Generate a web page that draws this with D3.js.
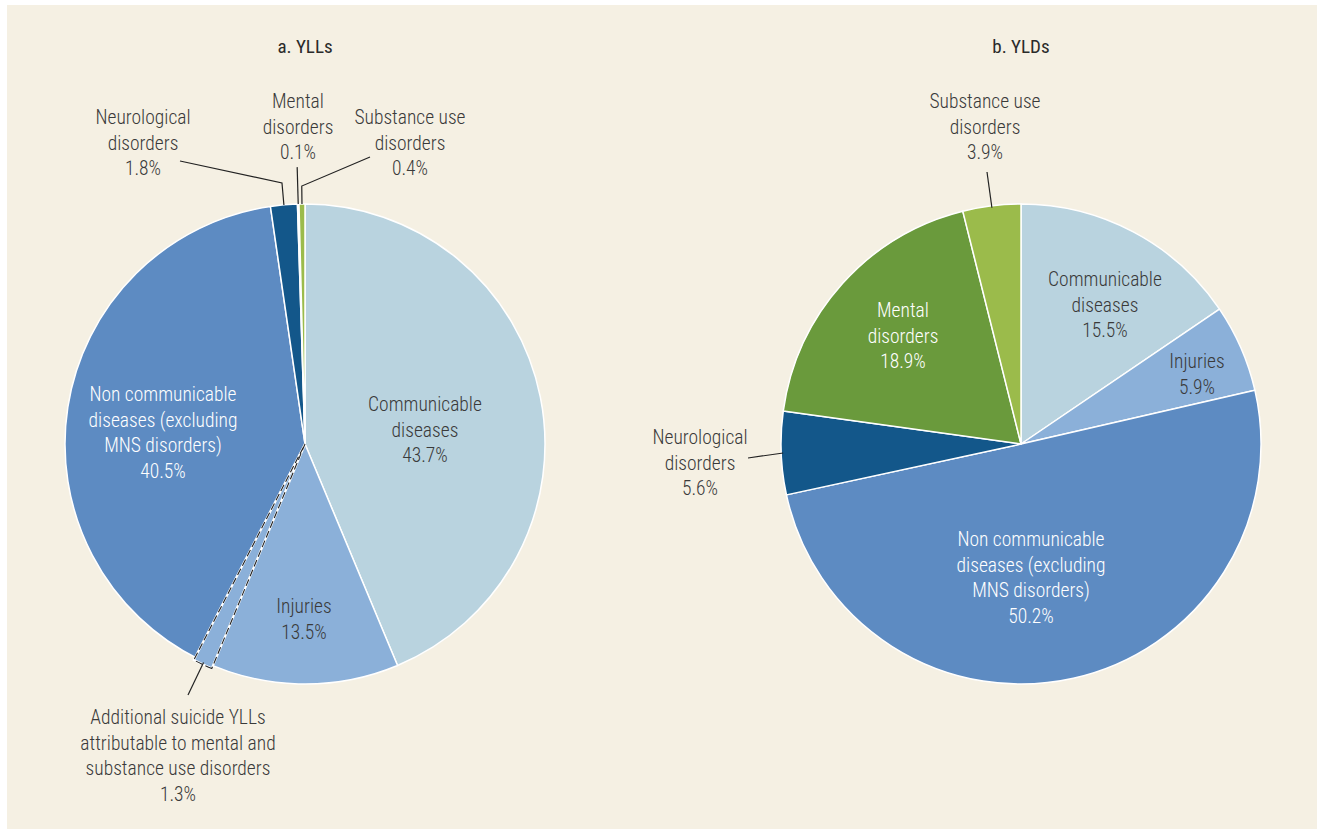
<!DOCTYPE html>
<html><head><meta charset="utf-8">
<script src="https://cdn.jsdelivr.net/npm/d3@7"></script>
<style>
html,body{margin:0;padding:0;background:#fff;}
svg text{font-family:"Liberation Sans Narrow","Roboto Condensed","DejaVu Sans Condensed",sans-serif;}
</style></head>
<body><svg id="c" width="1317" height="831"></svg>
<script>
// ---- data ----
const categoriesA = ["Communicable diseases","Injuries","Non communicable diseases (excluding MNS disorders)","Neurological disorders","Mental disorders","Substance use disorders"];
const valuesA = [43.7, 13.5, 40.5, 1.8, 0.1, 0.4];
const suicideA = 1.3; // additional suicide YLLs (overlay)
const categoriesB = ["Communicable diseases","Injuries","Non communicable diseases (excluding MNS disorders)","Neurological disorders","Mental disorders","Substance use disorders"];
const valuesB = [15.5, 5.9, 50.2, 5.6, 18.9, 3.9];
const titles = ["a. YLLs","b. YLDs"];

// ---- styles ----
const colors = {"Communicable diseases":"#b9d3df","Injuries":"#8bb0d9","Non communicable diseases (excluding MNS disorders)":"#5d8bc2","Neurological disorders":"#13578a","Mental disorders":"#6a9a3c","Substance use disorders":"#9bbb4b"};
const textDark = "#3a3a3a";
const fs = 19.5, lh = 25.5;

const svg = d3.select("#c");
svg.append("rect").attr("x",7).attr("y",5).attr("width",1310).attr("height",824).attr("fill","#f5f0e3");

const R = 240;
const pie = d3.pie().sort(null).value(d=>d.v);
const arc = d3.arc().innerRadius(0).outerRadius(R);

function polar(cx,cy,ang,r){return [cx + r*Math.sin(ang), cy - r*Math.cos(ang)];}

function drawLabel(g, lines, x, y, color){
  const t = g.append("text").attr("text-anchor","middle").attr("fill",color).attr("font-size",fs).attr("font-weight",300);
  lines.forEach((l,i)=>{
    t.append("tspan").attr("x",x).attr("y",y + i*lh + fs*0.36).text(l);
  });
}

function drawPie(cx, cy, cats, vals, title){
  const g = svg.append("g");
  g.append("text").attr("x",cx).attr("y",46+6.5).attr("text-anchor","middle").attr("font-size",19)
    .attr("fill","#2a2a2a").attr("font-weight",400).text(title);
  const data = pie(cats.map((c,i)=>({c, v:vals[i]})));
  const pg = g.append("g").attr("transform",`translate(${cx},${cy})`);
  pg.selectAll("path").data(data).join("path").attr("d",arc)
    .attr("fill",d=>colors[d.data.c]).attr("stroke","#fff").attr("stroke-width",1.5).attr("stroke-linejoin","round");
  return {g, pg, data};
}

// ---- Pie a ----
const A = drawPie(305, 444, categoriesA, valuesA, titles[0]);
{
  const {g,pg,data} = A;
  const cx=305, cy=444;
  const bnd = data[1].endAngle;
  const w = suicideA/100*2*Math.PI;
  const wedge = {startAngle: bnd - 0.72*w, endAngle: bnd + 0.28*w};
  pg.append("path").attr("d", d3.arc().innerRadius(0).outerRadius(R+3)(wedge))
    .attr("fill",colors["Injuries"]).attr("stroke","#fff").attr("stroke-width",2.2);
  pg.append("path").attr("d", d3.arc().innerRadius(0).outerRadius(R+3)(wedge))
    .attr("fill","none").attr("stroke","#222").attr("stroke-width",1.1).attr("stroke-dasharray","7,3.5");
  const mid = d=> (d.startAngle+d.endAngle)/2;
  drawLabel(g, ["Communicable","diseases","43.7%"], 425, 404, textDark);
  drawLabel(g, ["Injuries","13.5%"], 304, 606, textDark);
  drawLabel(g, ["Non communicable","diseases (excluding","MNS disorders)","40.5%"], 163, 394, "#fff");
  drawLabel(g, ["Neurological","disorders","1.8%"], 143, 117, textDark);
  drawLabel(g, ["Mental","disorders","0.1%"], 298, 101, textDark);
  drawLabel(g, ["Substance use","disorders","0.4%"], 410, 117, textDark);
  drawLabel(g, ["Additional suicide YLLs","attributable to mental and","substance use disorders","1.3%"], 178, 717, textDark);
  const line = d3.line();
  const ln = (pts)=>g.append("path").attr("d",line(pts)).attr("fill","none").attr("stroke","#222").attr("stroke-width",1.2);
  let a = mid(data[3]);
  ln([[180,161], polar(cx,cy,a,R+22), polar(cx,cy,a,R)]);
  a = mid(data[4]);
  ln([polar(cx,cy,a,R+37), polar(cx,cy,a,R)]);
  a = mid(data[5]);
  ln([[370,157], polar(cx,cy,a,R+18), polar(cx,cy,a,R)]);
  a = (wedge.startAngle+wedge.endAngle)/2;
  ln([polar(cx,cy,a,R+1), [188,695]]);
}

// ---- Pie b ----
const B = drawPie(1021, 444, categoriesB, valuesB, titles[1]);
{
  const {g,data} = B;
  const cx=1021, cy=444;
  const mid = d=> (d.startAngle+d.endAngle)/2;
  drawLabel(g, ["Communicable","diseases","15.5%"], 1105, 279, textDark);
  drawLabel(g, ["Injuries","5.9%"], 1197, 361, textDark);
  drawLabel(g, ["Mental","disorders","18.9%"], 903, 310, "#fff");
  drawLabel(g, ["Non communicable","diseases (excluding","MNS disorders)","50.2%"], 1031, 539, "#fff");
  drawLabel(g, ["Substance use","disorders","3.9%"], 985, 101, textDark);
  drawLabel(g, ["Neurological","disorders","5.6%"], 700, 437, textDark);
  const line = d3.line();
  const ln = (pts)=>g.append("path").attr("d",line(pts)).attr("fill","none").attr("stroke","#222").attr("stroke-width",1.2);
  ln([[987,172], polar(cx,cy,mid(data[5]),R-2)]);
  ln([[748,458], polar(cx,cy,mid(data[3]),R-2)]);
}
</script></body></html>
